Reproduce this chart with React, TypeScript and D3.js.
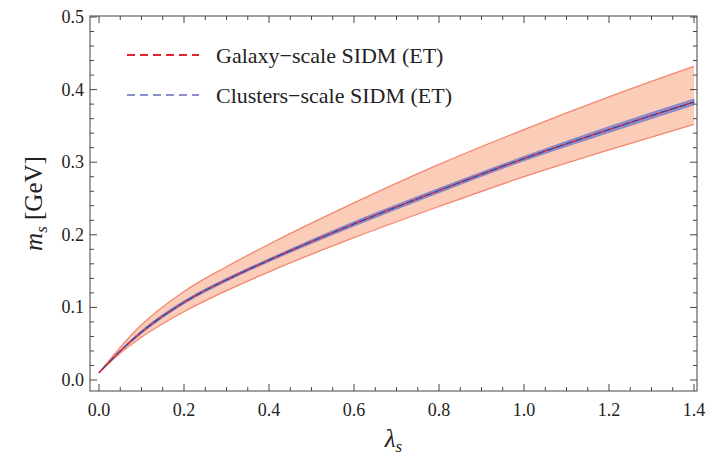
import * as React from "react";
import * as d3 from "d3";

// lambda_s values and m_s readings [GeV]
const lambdas = [0, 0.05, 0.1, 0.2, 0.3, 0.4, 0.6, 0.8, 1.0, 1.2, 1.4];
const center = [0.01, 0.04, 0.066, 0.107, 0.138, 0.165, 0.215, 0.261, 0.305, 0.345, 0.383];
const upper = [0.01, 0.045, 0.076, 0.122, 0.156, 0.187, 0.244, 0.297, 0.345, 0.39, 0.432];
const lower = [0.01, 0.037, 0.059, 0.094, 0.123, 0.149, 0.196, 0.239, 0.28, 0.317, 0.352];
const clusterHalfWidth = [0, 0.001, 0.002, 0.002, 0.002, 0.002, 0.003, 0.003, 0.003, 0.004, 0.004];
const xTicks = [0, 0.2, 0.4, 0.6, 0.8, 1.0, 1.2, 1.4];
const yTicks = [0, 0.1, 0.2, 0.3, 0.4, 0.5];
const legend = ["Galaxy\u2212scale SIDM (ET)", "Clusters\u2212scale SIDM (ET)"];

const W = 727, H = 466;
const L = 90, R = 697, T = 16, B = 391;

export default function App() {
  const x = d3.scaleLinear().domain([0, 1.4]).range([99, 694]);
  const y = d3.scaleLinear().domain([0, 0.5]).range([380, 17]);
  const curve = d3.curveMonotoneX;
  const band = d3.area<number>().x((_, i) => x(lambdas[i])).y0((_, i) => y(lower[i])).y1((_, i) => y(upper[i])).curve(curve);
  const inner = d3.area<number>().x((_, i) => x(lambdas[i]))
    .y0((_, i) => y(center[i] - clusterHalfWidth[i])).y1((_, i) => y(center[i] + clusterHalfWidth[i])).curve(curve);
  const line = d3.line<number>().x((_, i) => x(lambdas[i])).y(d => y(d)).curve(curve);
  const xMinor = d3.range(0, 1.4001, 0.05);
  const yMinor = d3.range(0, 0.5001, 0.02);
  const font = "'Liberation Serif', 'Times New Roman', serif";

  return (
    <svg width={W} height={H} style={{ position: "absolute", left: 0, top: 0, fontFamily: font }}>
      <rect width={W} height={H} fill="white" />
      <path d={band(lambdas) || ""} fill="#fbcdb8" stroke="none" />
      <path d={line(upper) || ""} fill="none" stroke="#f5866f" strokeWidth={1.3} />
      <path d={line(lower) || ""} fill="none" stroke="#f5866f" strokeWidth={1.3} />
      <path d={inner(lambdas) || ""} fill="#8b8fd0" stroke="#7a7ec4" strokeWidth={0.8} />
      <path d={line(center) || ""} fill="none" stroke="#e0242e" strokeWidth={1.3} strokeDasharray="6,4" />
      <path d={line(center) || ""} fill="none" stroke="#4a3a86" strokeWidth={1.3} strokeDasharray="6,4" strokeDashoffset={5} />
      <rect x={L} y={T} width={R - L} height={B - T} fill="none" stroke="#444" strokeWidth={1} />
      {xMinor.map((v, i) => {
        const len = i % 4 === 0 ? 7 : 4;
        return <g key={"xm" + i} stroke="#444">
          <line x1={x(v)} x2={x(v)} y1={B} y2={B - len} />
          <line x1={x(v)} x2={x(v)} y1={T} y2={T + len} />
        </g>;
      })}
      {yMinor.map((v, i) => {
        const len = i % 5 === 0 ? 7 : 4;
        return <g key={"ym" + i} stroke="#444">
          <line x1={L} x2={L + len} y1={y(v)} y2={y(v)} />
          <line x1={R} x2={R - len} y1={y(v)} y2={y(v)} />
        </g>;
      })}
      {xTicks.map(v => <text key={"xt" + v} x={x(v)} y={B + 25} textAnchor="middle" fontSize={18} fill="#222">{v.toFixed(1)}</text>)}
      {yTicks.map(v => <text key={"yt" + v} x={L - 6} y={y(v) + 6} textAnchor="end" fontSize={18} fill="#222">{v.toFixed(1)}</text>)}
      <text transform={`translate(42,${(T + B) / 2}) rotate(-90)`} textAnchor="middle" fontSize={25} fill="#222">
        <tspan fontStyle="italic">m</tspan><tspan fontStyle="italic" fontSize={17} dy={5}>s</tspan><tspan dy={-5}> [GeV]</tspan>
      </text>
      <text x={(L + R) / 2} y={447} textAnchor="middle" fontSize={25} fill="#222">
        <tspan fontStyle="italic">λ</tspan><tspan fontStyle="italic" fontSize={17} dy={5}>s</tspan>
      </text>
      {legend.map((s, i) => (
        <g key={s} transform={`translate(127,${55 + i * 40})`}>
          <line x1={0} x2={72} y1={0} y2={0} stroke={i === 0 ? "#e0242e" : "#8b8fd0"} strokeWidth={1.8} strokeDasharray="8,5" />
          <text x={89} y={8} fontSize={22} fill="#222">{s}</text>
        </g>
      ))}
    </svg>
  );
}
